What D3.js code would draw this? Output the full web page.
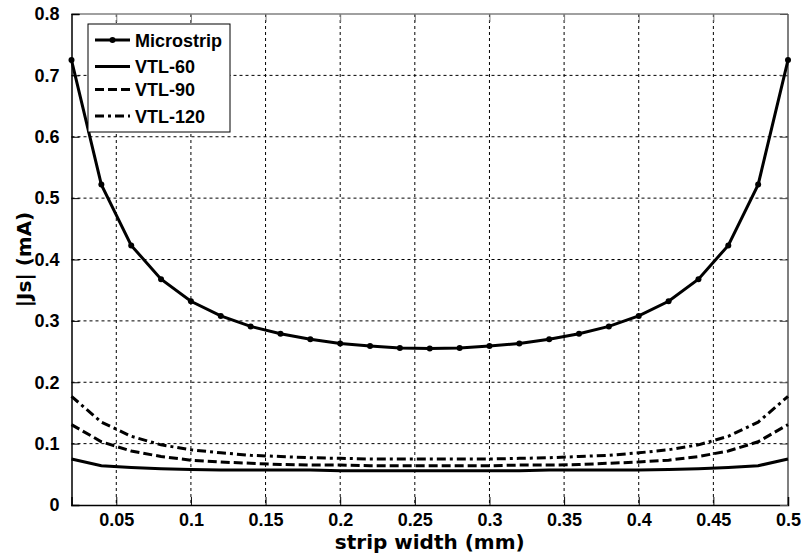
<!DOCTYPE html>
<html lang="en">
  <head>
    <meta charset="UTF-8" />
    <title>|Js| vs strip width</title>
    <script src="https://d3js.org/d3.v7.min.js"></script>
    <style>
      body {
        margin: 0;
        background: #fff;
      }
      svg {
        display: block;
      }
      .tick-label {
        font-family: "Liberation Sans", Arial, sans-serif;
        font-weight: bold;
        font-size: 18px;
        fill: #000;
      }
      .axis-title {
        font-family: "DejaVu Sans", Verdana, sans-serif;
        font-weight: bold;
        font-size: 20px;
        fill: #000;
      }
      .legend-text {
        font-family: "Liberation Sans", Arial, sans-serif;
        font-weight: bold;
        font-size: 18px;
        fill: #000;
      }
    </style>
  </head>
  <body>
    <svg id="chart" width="801" height="556"></svg>
    <script>
      // strip width (mm)
      const stripWidth = [
        0.02, 0.04, 0.06, 0.08, 0.1, 0.12, 0.14, 0.16, 0.18, 0.2, 0.22, 0.24,
        0.26, 0.28, 0.3, 0.32, 0.34, 0.36, 0.38, 0.4, 0.42, 0.44, 0.46, 0.48,
        0.5,
      ];
      // |Js| (mA)
      const microstrip = [
        0.725, 0.522, 0.423, 0.368, 0.332, 0.308, 0.291, 0.279, 0.27, 0.263,
        0.259, 0.256, 0.255, 0.256, 0.259, 0.263, 0.27, 0.279, 0.291, 0.308,
        0.332, 0.368, 0.423, 0.522, 0.725,
      ];
      const vtl60 = [
        0.075, 0.064, 0.061, 0.059, 0.058, 0.057, 0.057, 0.057, 0.057, 0.056,
        0.056, 0.056, 0.056, 0.056, 0.056, 0.056, 0.057, 0.057, 0.057, 0.057,
        0.058, 0.059, 0.061, 0.064, 0.075,
      ];
      const vtl90 = [
        0.131, 0.103, 0.088, 0.079, 0.073, 0.07, 0.068, 0.066, 0.065, 0.065,
        0.064, 0.064, 0.064, 0.064, 0.064, 0.065, 0.065, 0.066, 0.068, 0.07,
        0.073, 0.079, 0.088, 0.103, 0.131,
      ];
      const vtl120 = [
        0.177, 0.135, 0.112, 0.098, 0.09, 0.085, 0.081, 0.079, 0.077, 0.076,
        0.075, 0.075, 0.075, 0.075, 0.075, 0.076, 0.077, 0.079, 0.081, 0.085,
        0.09, 0.098, 0.112, 0.135, 0.177,
      ];
      const xTicks = [0.05, 0.1, 0.15, 0.2, 0.25, 0.3, 0.35, 0.4, 0.45, 0.5];
      const yTicks = [0, 0.1, 0.2, 0.3, 0.4, 0.5, 0.6, 0.7, 0.8];
      const seriesNames = ["Microstrip", "VTL-60", "VTL-90", "VTL-120"];

      const margin = { top: 14, right: 13, bottom: 51, left: 71.5 };
      const width = 801 - margin.left - margin.right;
      const height = 556 - margin.top - margin.bottom;

      const svg = d3.select("#chart");
      const g = svg
        .append("g")
        .attr("transform", `translate(${margin.left},${margin.top})`);

      const x = d3.scaleLinear().domain([0.02, 0.5]).range([0, width]);
      const y = d3.scaleLinear().domain([0, 0.8]).range([height, 0]);

      // grid
      g.append("g")
        .selectAll("line")
        .data(xTicks.filter((d) => d < 0.5))
        .join("line")
        .attr("x1", (d) => x(d))
        .attr("x2", (d) => x(d))
        .attr("y1", 0)
        .attr("y2", height)
        .attr("stroke", "#000")
        .attr("stroke-width", 1)
        .attr("stroke-dasharray", "3,3");

      g.append("g")
        .selectAll("line")
        .data(yTicks.filter((d) => d > 0 && d < 0.8))
        .join("line")
        .attr("x1", 0)
        .attr("x2", width)
        .attr("y1", (d) => y(d))
        .attr("y2", (d) => y(d))
        .attr("stroke", "#000")
        .attr("stroke-width", 1)
        .attr("stroke-dasharray", "3,3");

      // frame
      g.append("line")
        .attr("x1", 0).attr("x2", width).attr("y1", 0).attr("y2", 0)
        .attr("stroke", "#808080").attr("stroke-width", 1.5);
      g.append("line")
        .attr("x1", width).attr("x2", width).attr("y1", 0).attr("y2", height)
        .attr("stroke", "#555").attr("stroke-width", 1.5);

      // axes with inward ticks
      const xAxis = g
        .append("g")
        .attr("transform", `translate(0,${height})`)
        .call(d3.axisBottom(x).tickValues(xTicks).tickSize(-8).tickPadding(15).tickFormat((d) => d3.format("~g")(d)));
      const yAxis = g
        .append("g")
        .call(d3.axisLeft(y).tickValues(yTicks).tickSize(-8).tickPadding(12).tickFormat((d) => d3.format("~g")(d)));
      g.append("g")
        .call(d3.axisTop(x).tickValues(xTicks).tickSize(-8).tickFormat(""))
        .call((a) => a.select(".domain").remove())
        .selectAll("line").attr("stroke", "#808080");
      g.append("g")
        .attr("transform", `translate(${width},0)`)
        .call(d3.axisRight(y).tickValues(yTicks).tickSize(-8).tickFormat(""))
        .call((a) => a.select(".domain").remove())
        .selectAll("line").attr("stroke", "#555");

      [xAxis, yAxis].forEach((a) => {
        a.select(".domain").attr("stroke", "#000").attr("stroke-width", 1.5);
        a.selectAll("text").attr("class", "tick-label").attr("font-size", null).attr("font-family", null);
      });
      xAxis.selectAll("text").attr("dy", "0.35em");

      // series
      const series = [
        { name: seriesNames[0], values: microstrip, dash: null, marker: true },
        { name: seriesNames[1], values: vtl60, dash: null, marker: false },
        { name: seriesNames[2], values: vtl90, dash: "9,4", marker: false },
        { name: seriesNames[3], values: vtl120, dash: "9,4,3,4", marker: false },
      ];

      const line = d3
        .line()
        .x((d) => x(d[0]))
        .y((d) => y(d[1]));

      series.forEach((s) => {
        const pts = stripWidth.map((w, i) => [w, s.values[i]]);
        g.append("path")
          .datum(pts)
          .attr("fill", "none")
          .attr("stroke", "#000")
          .attr("stroke-width", 3)
          .attr("stroke-dasharray", s.dash)
          .attr("d", line);
        if (s.marker) {
          g.append("g")
            .selectAll("circle")
            .data(pts)
            .join("circle")
            .attr("cx", (d) => x(d[0]))
            .attr("cy", (d) => y(d[1]))
            .attr("r", 3)
            .attr("fill", "#000");
        }
      });

      // axis titles
      svg.append("text")
        .attr("class", "axis-title")
        .attr("x", margin.left + width / 2)
        .attr("y", 549)
        .attr("text-anchor", "middle")
        .text("strip width (mm)");

      svg.append("text")
        .attr("class", "axis-title")
        .attr("transform", `translate(31,${margin.top + height / 2}) rotate(-90)`)
        .attr("text-anchor", "middle")
        .text("|Js| (mA)");

      // legend
      const legend = svg.append("g").attr("transform", "translate(88,24)");
      legend.append("rect")
        .attr("width", 142)
        .attr("height", 108)
        .attr("fill", "#fff")
        .attr("stroke", "#000")
        .attr("stroke-width", 1);

      const rowY = [16, 42.5, 65.5, 92];
      series.forEach((s, i) => {
        const row = legend.append("g").attr("transform", `translate(0,${rowY[i]})`);
        row.append("line")
          .attr("x1", 7).attr("x2", 42)
          .attr("stroke", "#000")
          .attr("stroke-width", 3)
          .attr("stroke-dasharray", s.dash);
        if (s.marker) {
          row.append("circle").attr("cx", 24.5).attr("r", 3).attr("fill", "#000");
        }
        row.append("text")
          .attr("class", "legend-text")
          .attr("x", 47)
          .attr("y", 6.5)
          .text(s.name);
      });
    </script>
  </body>
</html>
